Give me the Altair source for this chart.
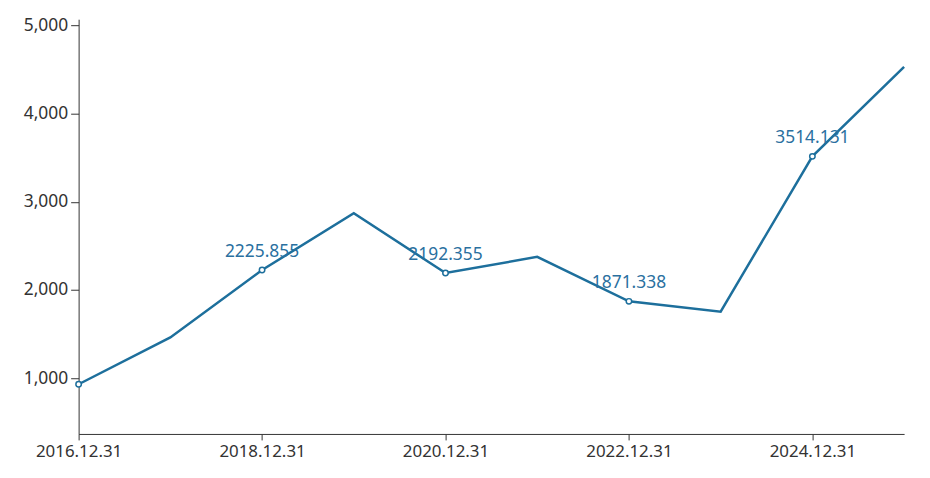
import altair as alt
import pandas as pd

dates = ["2016.12.31", "2017.12.31", "2018.12.31", "2019.12.31", "2020.12.31",
         "2021.12.31", "2022.12.31", "2023.12.31", "2024.12.31", "2025.12.31"]
values = [932, 1462, 2225.855, 2870, 2192.355, 2375, 1871.338, 1755, 3514.131, 4527]
show_marker = [True, False, True, False, True, False, True, False, True, False]
show_label = [False, False, True, False, True, False, True, False, True, False]
axis_dates = ["2016.12.31", "2018.12.31", "2020.12.31", "2022.12.31", "2024.12.31"]

df = pd.DataFrame({"date": dates, "value": values,
                   "marker": show_marker, "label": show_label})
df["text"] = df["value"].map(lambda v: f"{v:.3f}")

FONT = "Noto Sans"
COLOR = "#1d6f9c"

x = alt.X("date:O", sort=dates,
          scale=alt.Scale(type="point", padding=0),
          axis=alt.Axis(values=axis_dates, title=None, labelAngle=0,
                        labelFontSize=17, labelColor="#333333", labelFont=FONT,
                        labelPadding=4, tickSize=6, tickColor="#333333",
                        domainColor="#333333", grid=False))
y = alt.Y("value:Q",
          scale=alt.Scale(domain=[369, 5068], nice=False, zero=False),
          axis=alt.Axis(values=[1000, 2000, 3000, 4000, 5000], title=None,
                        format=",.0f", labelFontSize=17.5, labelColor="#333333",
                        labelFont=FONT, labelPadding=3, tickSize=8,
                        tickColor="#333333", domainColor="#333333", grid=False))

base = alt.Chart(df)
line = base.mark_line(color=COLOR, strokeWidth=2.5).encode(x=x, y=y)
pts = base.transform_filter("datum.marker").mark_point(
    filled=True, fill="white", stroke=COLOR, strokeWidth=1.5, size=30, opacity=1
).encode(x=x, y=y)
labels = base.transform_filter("datum.label").mark_text(
    dy=-18, fontSize=17.5, font=FONT, color="#2a70a0"
).encode(x=x, y=y, text="text:N")

chart = alt.layer(line, pts, labels).properties(
    width=830, height=417,
    padding={"left": 71, "top": 10, "right": 18, "bottom": 40},
    autosize=alt.AutoSizeParams(type="none"),
    background="white",
).configure_view(stroke=None)

chart.save("out.html", embed_options={"renderer": "svg", "actions": False})
